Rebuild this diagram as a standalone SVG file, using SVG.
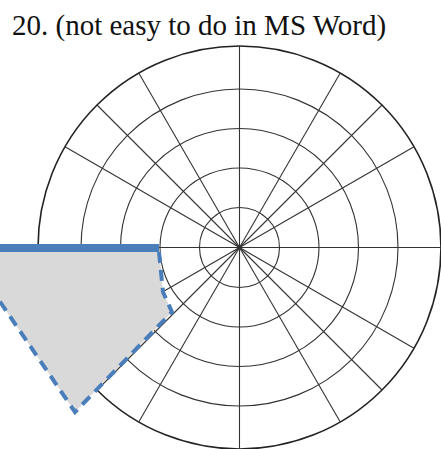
<svg xmlns="http://www.w3.org/2000/svg" width="441" height="449" viewBox="0 0 441 449">
<style>
.title{font-family:"Liberation Serif","Times New Roman",serif;font-size:29px;fill:#111}
.ring{fill:none;stroke:#333;stroke-width:1.1}
.outer{fill:none;stroke:#222;stroke-width:1.6}
.spoke{stroke:#333;stroke-width:1.1}
.fill{fill:#d9d9d9;stroke:none}
.solid{stroke:#4a7ebb;stroke-width:8;fill:none}
.dash{stroke:#4a7ebb;stroke-width:4;fill:none;stroke-dasharray:11 7}
</style>
<rect width="441" height="449" fill="#fff"/>
<text class="title" x="12" y="35">20. (not easy to do in MS Word)</text>
<g id="polar-grid" transform="translate(239.5 247.5)">
  <circle class="ring" r="40"/>
  <circle class="ring" r="79.5"/>
  <circle class="ring" r="119"/>
  <circle class="ring" r="158.5"/>
  <circle class="outer" r="201.5"/>
  <g id="spokes">
    <line class="spoke" x1="-201.5" y1="0" x2="201.5" y2="0"/>
    <line class="spoke" x1="0" y1="-201.5" x2="0" y2="201.5"/>
    <line class="spoke" x1="-174.5" y1="-100.75" x2="174.5" y2="100.75"/>
    <line class="spoke" x1="-174.5" y1="100.75" x2="174.5" y2="-100.75"/>
    <line class="spoke" x1="-142.5" y1="-142.5" x2="142.5" y2="142.5"/>
    <line class="spoke" x1="-142.5" y1="142.5" x2="142.5" y2="-142.5"/>
    <line class="spoke" x1="-100.75" y1="-174.5" x2="100.75" y2="174.5"/>
    <line class="spoke" x1="-100.75" y1="174.5" x2="100.75" y2="-174.5"/>
  </g>
</g>
<g id="region">
  <path class="fill" d="M -10 248 L 159 248 L 163 292 L 172 312 L 75 412 L -10 287 Z"/>
  <path class="dash" d="M 159 252 L 163 292 L 172 312 L 75 412 L -10 287"/>
  <line class="solid" x1="-5" y1="248" x2="159" y2="248"/>
</g>
</svg>
